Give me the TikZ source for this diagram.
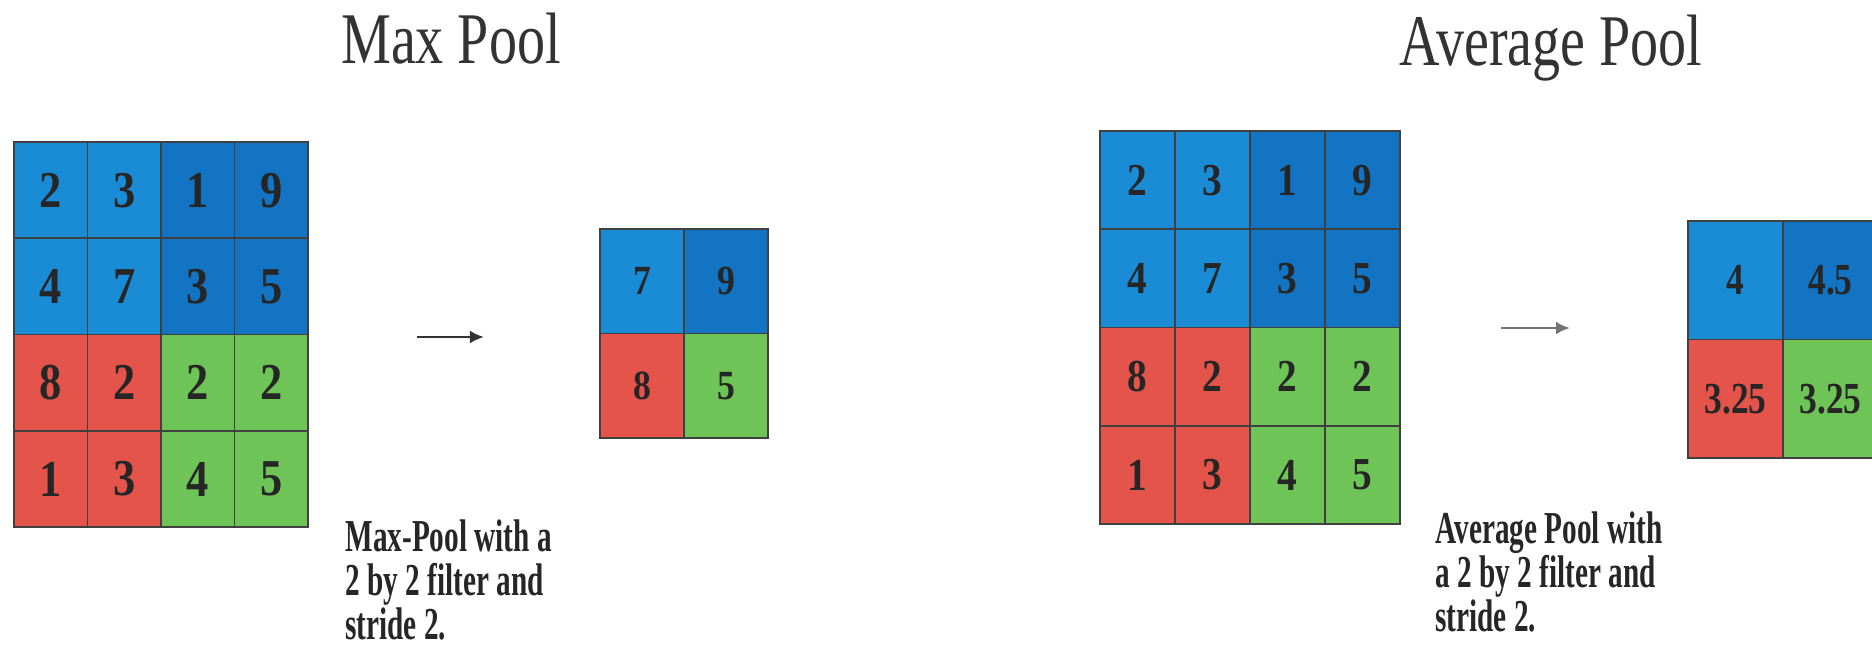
\documentclass[tikz,border=0pt]{standalone}
\usepackage{fontspec}
\setmainfont{Liberation Serif}
\usepackage{graphicx}
\usepackage{tikz}
\usetikzlibrary{arrows.meta, positioning}
\definecolor{poolblue}{RGB}{26,140,214}
\definecolor{pooldarkblue}{RGB}{18,116,194}
\definecolor{poolred}{RGB}{228,84,74}
\definecolor{poolgreen}{RGB}{110,196,86}

\begin{document}
\begin{tikzpicture}[
  x=0.01cm, y=-0.01cm,
  cell/.style={rectangle, draw=black!75, line width=0.5pt, inner sep=0pt, outer sep=0pt, text=black!85},
  heading/.style={font=\fontsize{20.7}{24}\selectfont, text=black!80, xscale=0.77, inner sep=0pt, anchor=base},
  caption/.style={font=\fontsize{13}{12.5}\selectfont\bfseries, text=black!85, xscale=0.64, align=left, inner sep=0pt, anchor=north west},
  arrow/.style={-{Latex[length=1.4mm, width=1.3mm]}, line width=0.8pt}
]
\useasboundingbox (0,0) rectangle (1872,645);

% titles
\node[heading] (maxtitle) at (451,63) {Max Pool};
\node[heading] (avgtitle) at (1551,65) {Average Pool};

% 4x4 inputs, same data on both sides
\foreach \g/\gx/\gy/\w/\h/\fs in {mp/14/142/73.5/96.3/14.7, ap/1100/131/75/98.3/13} {
  \foreach \r/\c/\v/\col in {1/1/2/poolblue, 1/2/3/poolblue, 1/3/1/pooldarkblue, 1/4/9/pooldarkblue,
                             2/1/4/poolblue, 2/2/7/poolblue, 2/3/3/pooldarkblue, 2/4/5/pooldarkblue,
                             3/1/8/poolred, 3/2/2/poolred, 3/3/2/poolgreen, 3/4/2/poolgreen,
                             4/1/1/poolred, 4/2/3/poolred, 4/3/4/poolgreen, 4/4/5/poolgreen} {
    \node[cell, fill=\col, minimum width=\w*0.01cm, minimum height=\h*0.01cm,
          font=\fontsize{\fs}{\fs}\selectfont\bfseries]
      (\g-\r-\c) at (\gx+\w*\c-\w/2, \gy+\h*\r-\h/2) {\scalebox{0.86}[1]{\v}};
  }
}

% 2x2 results
\foreach \r/\c/\v/\col in {1/1/7/poolblue, 1/2/9/pooldarkblue, 2/1/8/poolred, 2/2/5/poolgreen} {
  \node[cell, fill=\col, minimum width=0.84cm, minimum height=1.045cm,
        font=\fontsize{11.8}{11.8}\selectfont\bfseries]
    (mo-\r-\c) at (600+84*\c-42, 229+104.5*\r-52.25) {\scalebox{0.86}[1]{\v}};
}
\foreach \r/\c/\v/\col in {1/1/4/poolblue, 1/2/4.5/pooldarkblue, 2/1/3.25/poolred, 2/2/3.25/poolgreen} {
  \node[cell, fill=\col, minimum width=0.95cm, minimum height=1.185cm,
        font=\fontsize{12.6}{12.6}\selectfont\bfseries]
    (ao-\r-\c) at (1688+95*\c-47.5, 221+118.5*\r-59.25) {\scalebox{0.8}[1]{\v}};
}

% arrows
\coordinate (mp-from) at (417,337);
\coordinate (mp-to) at (484,337);
\draw[arrow, black!80] (mp-from) -- (mp-to);
\coordinate (ap-from) at (1501,328);
\coordinate (ap-to) at (1570,328);
\draw[arrow, black!55] (ap-from) -- (ap-to);

% notes
\node[caption] (maxnote) at (345,519) {Max-Pool with a\\2 by 2 filter and\\stride 2.};
\node[caption] (avgnote) at (1435,511) {Average Pool with\\a 2 by 2 filter and\\stride 2.};
\end{tikzpicture}
\end{document}
